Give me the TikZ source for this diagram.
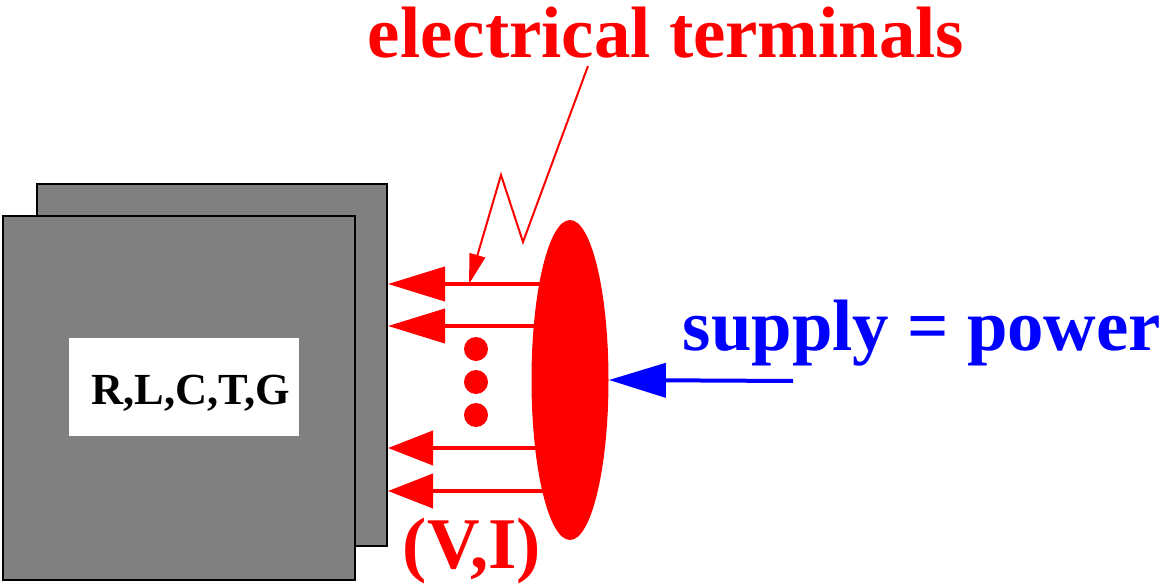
\documentclass[tikz,border=0pt]{standalone}
\usepackage{fontspec}
\setmainfont{Liberation Serif}
\usepackage{tikz}
\usetikzlibrary{positioning, shapes.geometric, arrows.meta, calc}

\begin{document}
\begin{tikzpicture}[x=0.5pt, y=-0.5pt, >=Triangle]

\tikzset{
  bodybox/.style={draw=black, line width=1pt, fill=gray, minimum width=175pt,
                  minimum height=181pt, inner sep=0pt},
  bigtext/.style={font=\fontsize{36.4}{40}\selectfont\bfseries, inner sep=0pt},
  wire/.style={red, line width=2pt},
  bighead/.style={-{Triangle[length=28.5pt, width=17pt]}},
  shorthead/.style={-{Triangle[length=22.5pt, width=17pt]}}
}

\useasboundingbox (0,0) rectangle (1164,584);

% the device, drawn twice
\node[bodybox] (bodyback)  at (212,365) {};
\node[bodybox, minimum width=176pt, minimum height=182pt] (bodyfront) at (179,398) {};
\node[fill=white, minimum width=115pt, minimum height=49pt, inner sep=0pt] (lbl) at (184,387) {};
\node[font=\fontsize{22.2}{24}\selectfont\bfseries, anchor=base, inner sep=0pt] (rlc) at (191,404) {R,L,C,T,G};

% the port
\node[ellipse, fill=red, minimum width=38.5pt, minimum height=160pt, inner sep=0pt] (port) at (570,380) {};

\coordinate (t1) at (545,284);
\coordinate (t2) at (545,326);
\coordinate (t3) at (545,448);
\coordinate (t4) at (545,491);

\draw[wire, bighead]   (t1) -- (bodyback.east |- t1);
\draw[wire, bighead]   (t2) -- (bodyback.east |- t2);
\draw[wire, shorthead] (t3) -- (bodyback.east |- t3);
\draw[wire, shorthead] (t4) -- (bodyback.east |- t4);

\foreach \y in {349,382,415}
  \fill[red] (476,\y) circle (6pt);

% labels
\node[bigtext, red, anchor=base] (term) at (666,57) {electrical terminals};
\node[bigtext, red, anchor=base] (vi) at (472,568) {(V,I)};
\node[bigtext, blue, anchor=base] (supply) at (922,350) {supply = power};

\coordinate (lead) at (588,66);
\coordinate (tip) at (469,284);
\draw[red, line width=1pt, -{Triangle[length=15pt, width=8pt]}]
      (lead) -- (523,242) -- (501,175) -- (tip);

\coordinate (src) at (793,381);
\draw[blue, line width=2pt, bighead] (src) -- (port.east);

\end{tikzpicture}
\end{document}
